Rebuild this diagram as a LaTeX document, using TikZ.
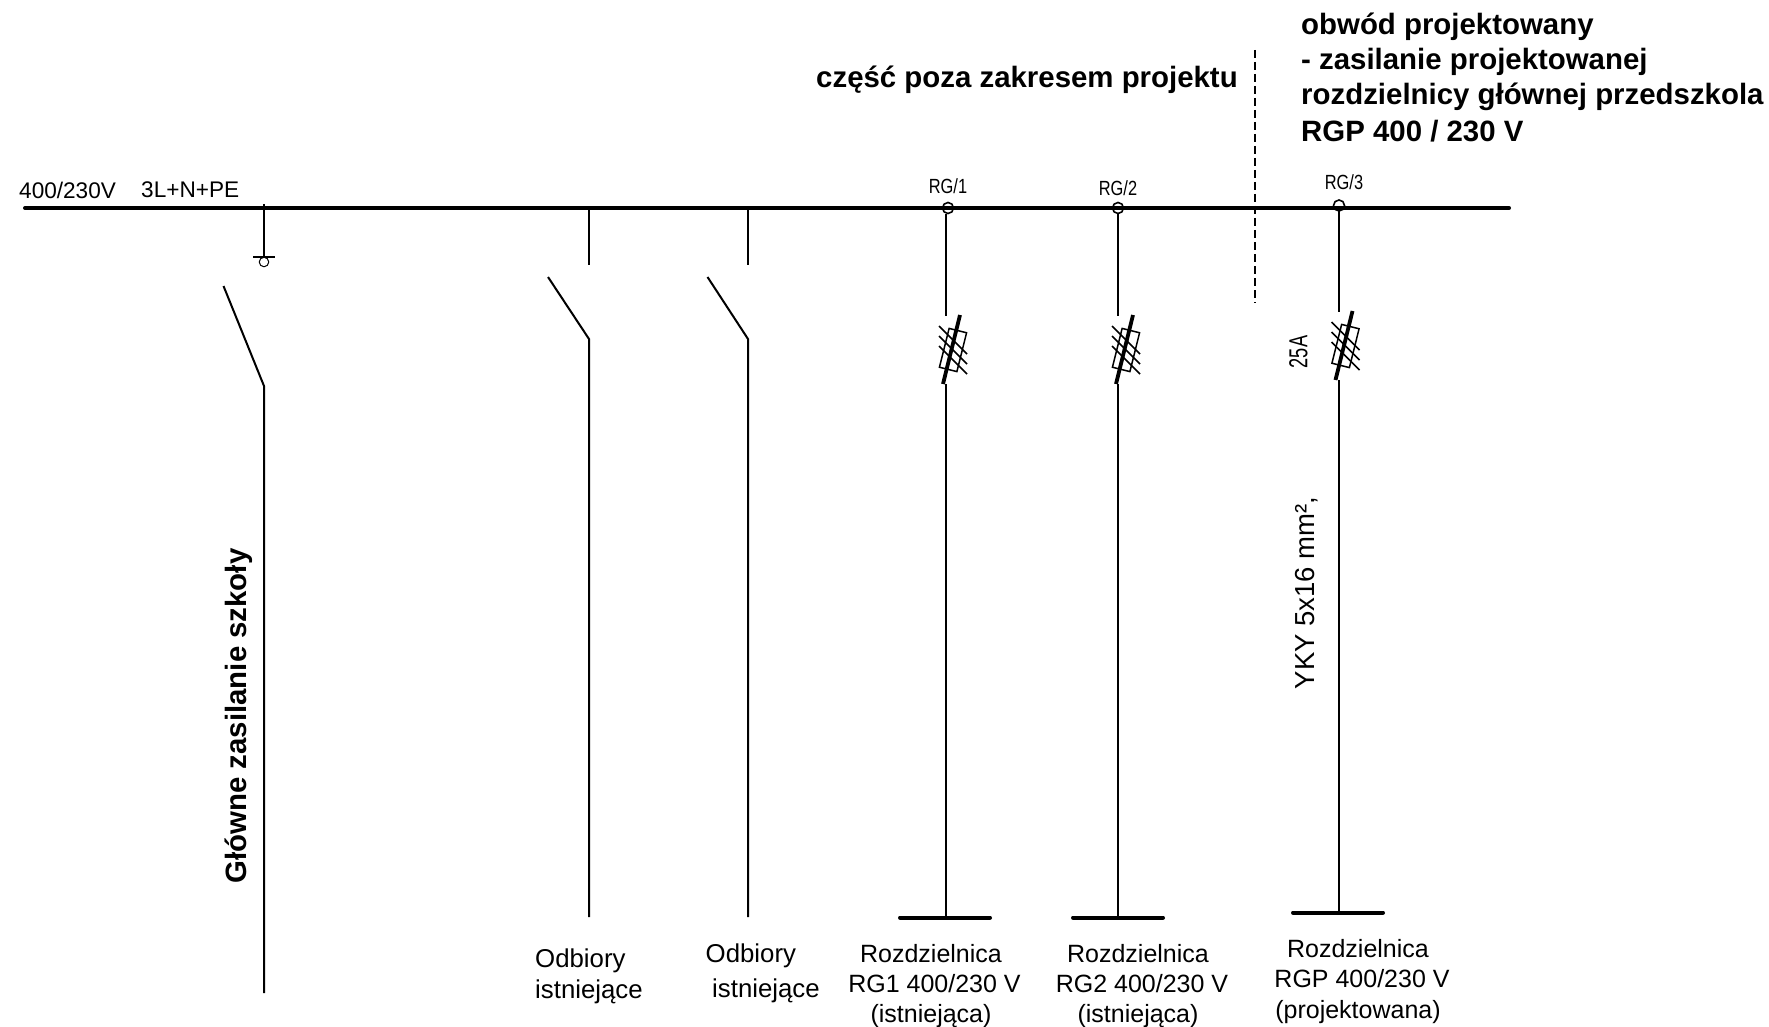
\documentclass[tikz,border=0pt]{standalone}
\usepackage{fontspec}
\usepackage{graphicx}
\setmainfont{Liberation Sans}
\tikzset{
  x=1pt,y=-1pt,
  wire/.style={line width=2pt,black},
  bus/.style={line width=4pt,black,line cap=round},
  busdot/.style={circle,draw,line width=1.6pt,minimum size=11pt,inner sep=0pt},
  head/.style={font=\fontsize{29.4}{35}\bfseries\selectfont,inner sep=0pt,align=left,anchor=west},
  lab/.style={font=\fontsize{25}{30}\selectfont,inner sep=0pt},
  labb/.style={font=\fontsize{25.8}{30}\selectfont,inner sep=0pt,anchor=west},
  small/.style={font=\fontsize{22.6}{25}\selectfont,inner sep=0pt,anchor=west},
  tiny/.style={font=\fontsize{20.5}{22}\selectfont,inner sep=0pt},
  fuserect/.style={draw,line width=1.5pt,minimum width=18pt,minimum height=40pt,inner sep=0pt,rotate=-14},
}
\newcommand{\fusesym}[2]{% centre x, centre y
  \begin{scope}[shift={(#1,#2)}]
    \node[fuserect] {};
    \draw[line width=3.8pt] (7,-35) -- (-10,34);
    \foreach \d in {-10,0,10}
      \draw[line width=1.7pt] (-14,-14+\d) -- (14,14+\d);
  \end{scope}
}
\begin{document}
\begin{tikzpicture}
\useasboundingbox (0,0) rectangle (1769,1027);
% bus
\coordinate (busL) at (25,208);
\coordinate (busR) at (1509,208);
\draw[bus] (busL) -- (busR);
% earth and main feed
\coordinate (gT) at (264,204);
\coordinate (gB) at (264,256);
\draw[wire] (gT) -- (gB);
\draw[line width=1.3pt] (253,257) -- (275,257);
\node[circle,draw,line width=1pt,minimum size=9.5pt,inner sep=0pt] (gC) at (264,262) {};
\coordinate (sw1a) at (223.5,286);
\coordinate (sw1b) at (264,386);
\coordinate (sw1c) at (264,993);
\draw[wire] (sw1a) -- (sw1b) -- (sw1c);
% feeders 2,3
\coordinate (f2t) at (589,208); \coordinate (f2m) at (589,265);
\coordinate (f2a) at (548,277); \coordinate (f2b) at (589,339); \coordinate (f2c) at (589,917);
\draw[wire] (f2t) -- (f2m);
\draw[wire] (f2a) -- (f2b) -- (f2c);
\coordinate (f3t) at (748,208); \coordinate (f3m) at (748,265);
\coordinate (f3a) at (707.5,277); \coordinate (f3b) at (748,339); \coordinate (f3c) at (748,917);
\draw[wire] (f3t) -- (f3m);
\draw[wire] (f3a) -- (f3b) -- (f3c);
% RG feeders
\node[busdot] (d1) at (948,208) {};
\node[busdot] (d2) at (1118,208) {};
\node[busdot] (d3) at (1339,205.5) {};
\coordinate (s1a) at (946,214); \coordinate (s1b) at (946,316);
\coordinate (s1c) at (946,384); \coordinate (s1d) at (946,917);
\draw[wire] (s1a) -- (s1b); \draw[wire] (s1c) -- (s1d);
\coordinate (s2a) at (1118,214); \coordinate (s2b) at (1118,316);
\coordinate (s2c) at (1118,384); \coordinate (s2d) at (1118,917);
\draw[wire] (s2a) -- (s2b); \draw[wire] (s2c) -- (s2d);
\coordinate (s3a) at (1339,211); \coordinate (s3b) at (1339,312);
\coordinate (s3c) at (1339,380); \coordinate (s3d) at (1339,912);
\draw[wire] (s3a) -- (s3b); \draw[wire] (s3c) -- (s3d);
\fusesym{953}{350}
\fusesym{1126}{350}
\fusesym{1345.5}{346}
\draw[bus] (900,917.5) -- (990,917.5);
\draw[bus] (1073,917.5) -- (1163,917.5);
\draw[bus] (1293,912.5) -- (1383,912.5);
% divider
\coordinate (divT) at (1255,50);
\coordinate (divB) at (1255,303);
\draw[line width=2pt,dash pattern=on 8pt off 4pt] (divT) -- (divB);
% top text
\node[head] (h1) at (1301,27) {obwód projektowany};
\node[head] (h2) at (1301,62) {- zasilanie projektowanej};
\node[head] (h3) at (1301,97) {rozdzielnicy głównej przedszkola};
\node[head] (h4) at (1301,131) {RGP 400 / 230 V};
\node[head] (t2) at (816,80) {część poza zakresem projektu};
% bus labels
\node[small] (v1) at (19,190) {400/230V};
\node[small] (v2) at (141,190) {3L+N+PE};
\node[tiny] (r1) at (948,186) {\scalebox{.8}[1]{RG/1}};
\node[tiny] (r2) at (1118,188) {\scalebox{.8}[1]{RG/2}};
\node[tiny] (r3) at (1344,182) {\scalebox{.8}[1]{RG/3}};
\node[rotate=90,font=\fontsize{26}{26}\selectfont,inner sep=0pt] (a25) at (1298.5,352) {\scalebox{.7}[1]{25A}};
\node[font=\fontsize{27.5}{30}\selectfont,rotate=90,inner sep=0pt] (yky) at (1307,593) {YKY 5x16 mm²,};
\node[font=\fontsize{29.4}{30}\bfseries\selectfont,rotate=90,inner sep=0pt] (main) at (239,716) {Główne zasilanie szkoły};
% bottom labels
\node[labb] (o1) at (535,961) {Odbiory};
\node[labb] (o2) at (535,992) {istniejące};
\node[labb] (o3) at (705.5,956) {Odbiory};
\node[labb] (o4) at (712,991) {istniejące};
\node[lab] (a1) at (931,954) {Rozdzielnica};
\node[lab] (a2) at (934.5,984) {RG1 400/230 V};
\node[lab] (a3) at (931,1016) {(istniejąca)};
\node[lab] (b1) at (1138,954) {Rozdzielnica};
\node[lab] (b2) at (1142,984) {RG2 400/230 V};
\node[lab] (b3) at (1138,1016) {(istniejąca)};
\node[lab] (c1) at (1358,949) {Rozdzielnica};
\node[lab] (c2) at (1362,979) {RGP 400/230 V};
\node[lab] (c3) at (1358,1012) {(projektowana)};
\end{tikzpicture}
\end{document}
